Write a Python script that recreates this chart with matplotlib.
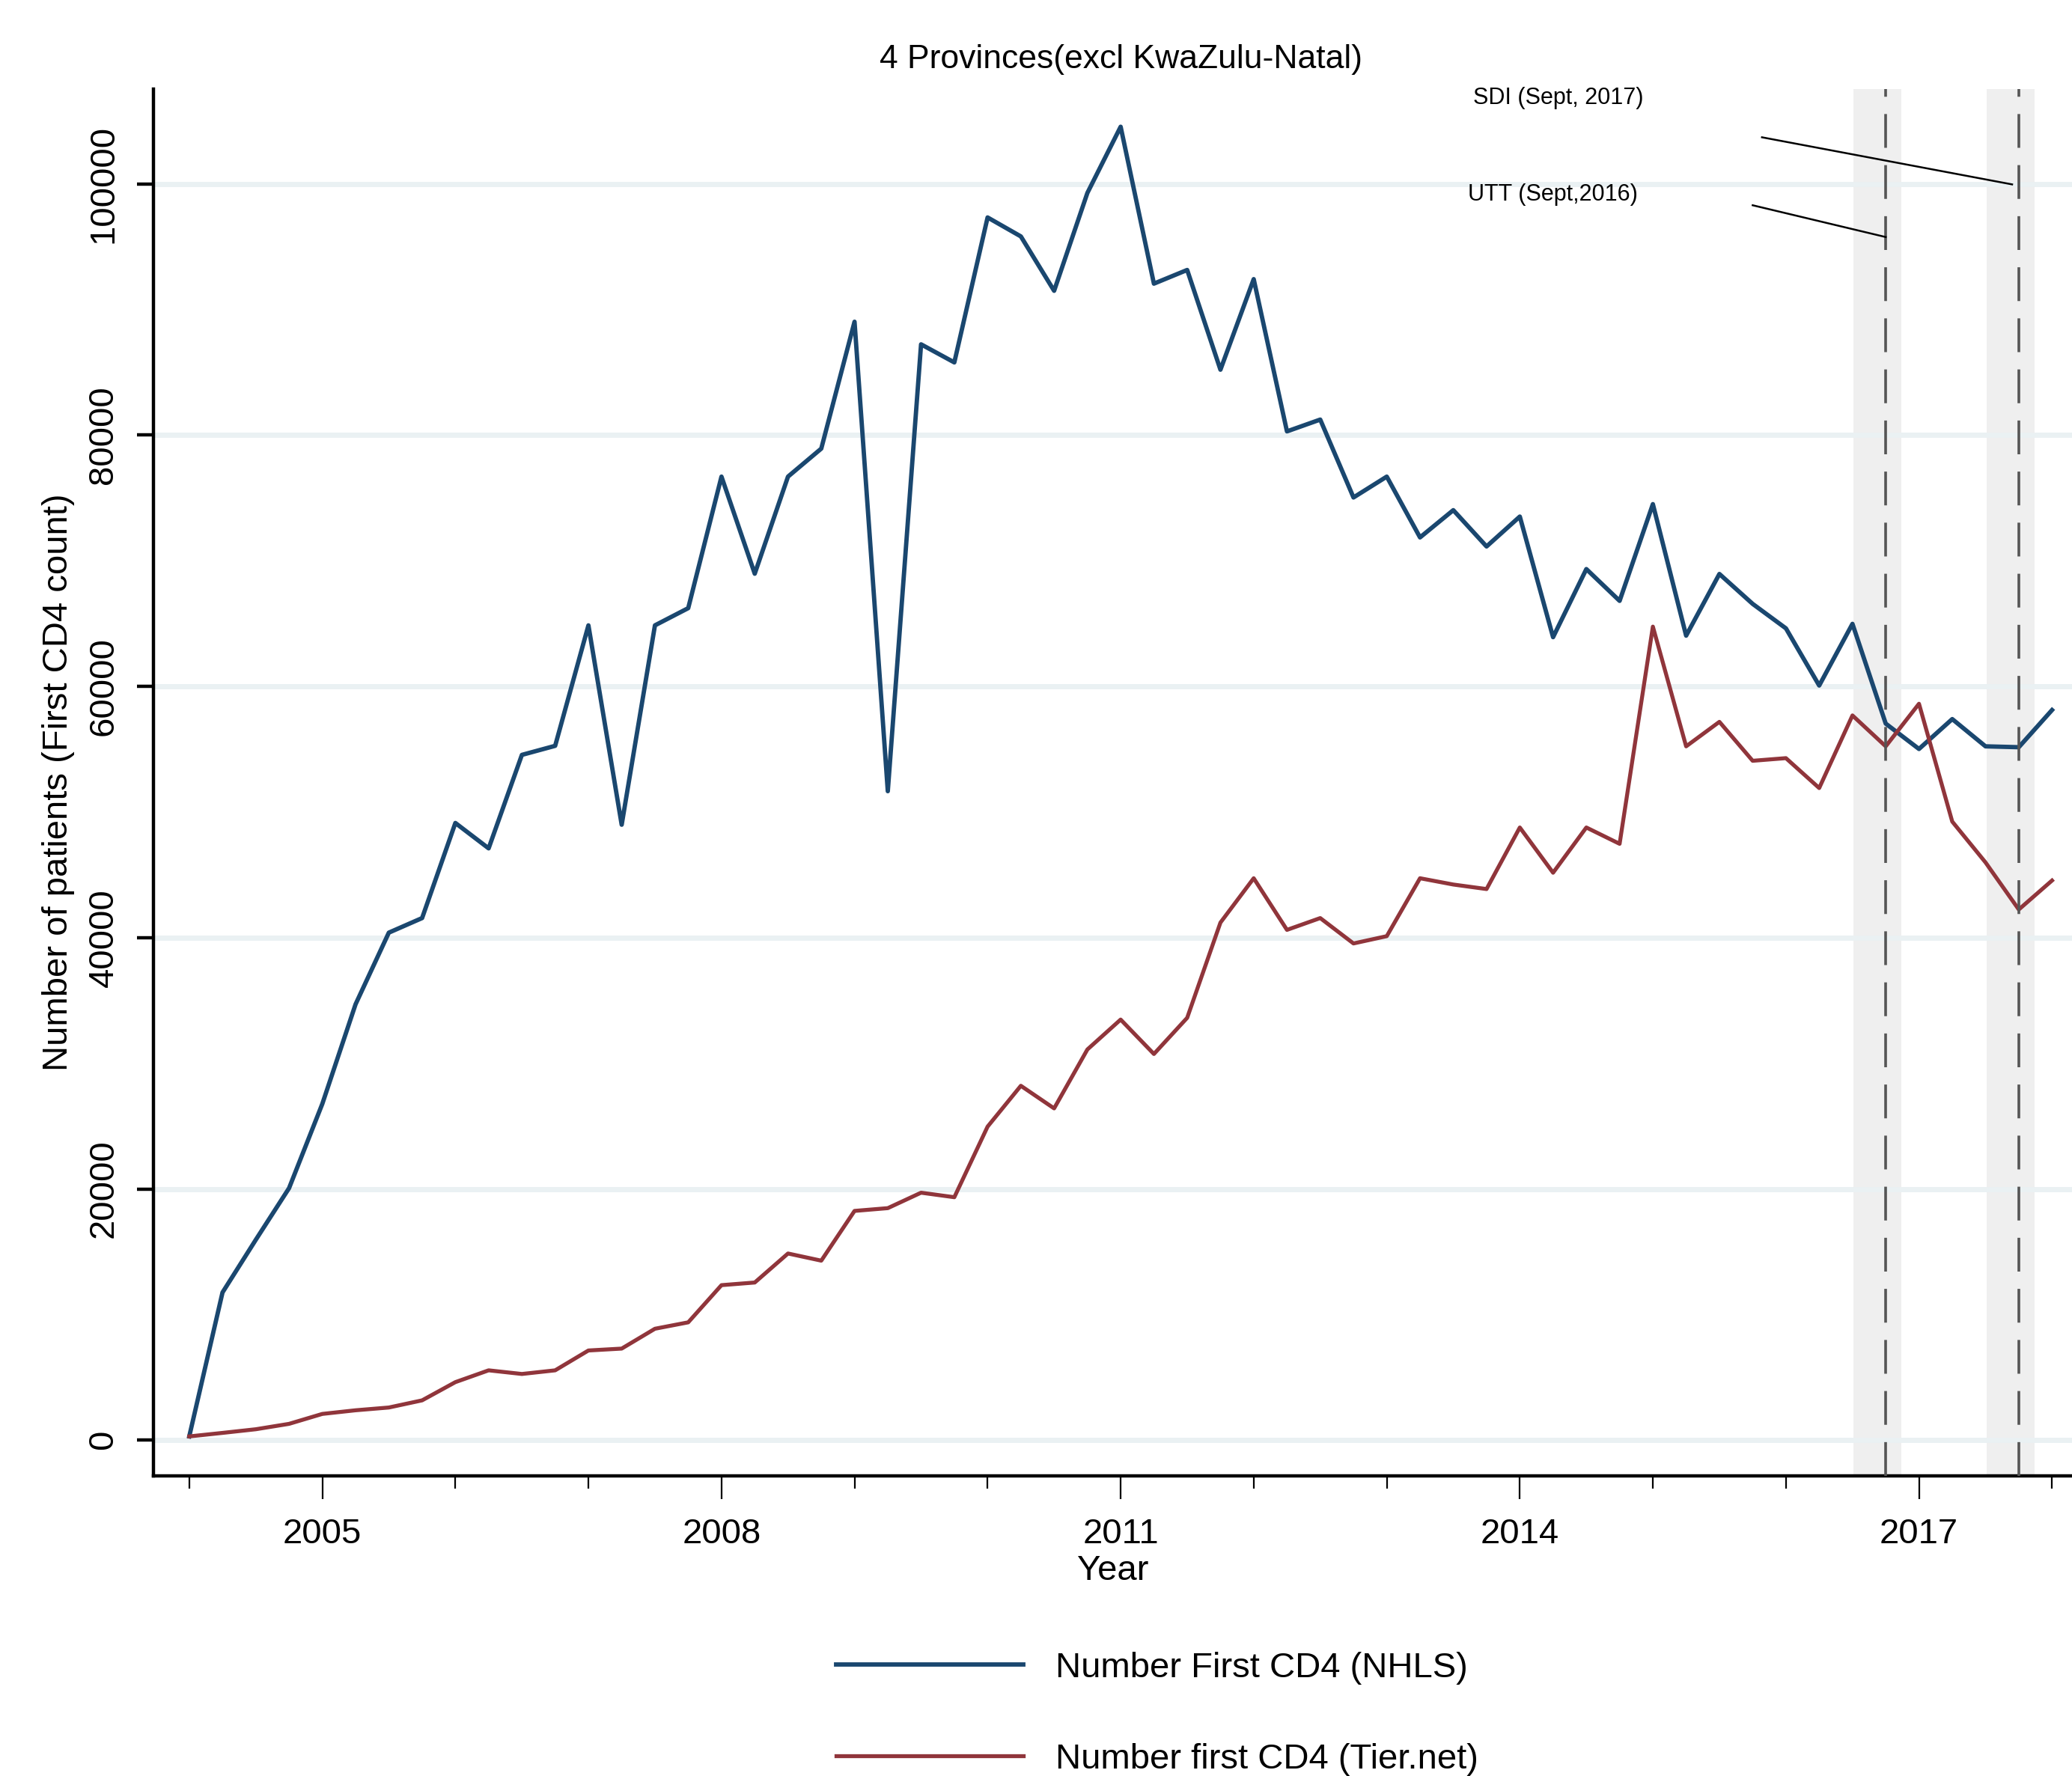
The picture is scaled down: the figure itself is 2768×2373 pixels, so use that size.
import numpy as np
import matplotlib
matplotlib.use("Agg")
import matplotlib.pyplot as plt

plt.rcParams['font.family'] = ['Liberation Sans Narrow', 'Liberation Sans', 'DejaVu Sans']

# quarterly time index, 2004 Q1 .. 2018 Q1
quarters = np.arange(2004, 2018.01, 0.25)

nhls = [300, 11760, 15950, 20060,
        26770, 34700, 40400, 41560,
        49130, 47110, 54550, 55270,
        64860, 48990, 64860, 66230,
        76700, 68970, 76700, 78930,
        89030, 51660, 87230, 85790,
        97330, 95820, 91490, 99280,
        104550, 92060, 93150, 85210,
        92420, 80300, 81240, 75040,
        76700, 71860, 74030, 71140,
        73520, 63920, 69340, 66810,
        74510, 64040, 68950, 66570,
        64620, 60070, 64980, 57040,
        55020, 57400, 55230, 55160,
        58120]

tiernet = [300, 580, 870, 1300,
           2090, 2380, 2600, 3170,
           4620, 5560, 5270, 5560,
           7140, 7290, 8870, 9380,
           12340, 12550, 14860, 14290,
           18250, 18470, 19700, 19340,
           24960, 28210, 26410, 31100,
           33480, 30740, 33620, 41200,
           44730, 40620, 41560, 39540,
           40120, 44730, 44230, 43870,
           48770, 45170, 48770, 47470,
           64760, 55230, 57180, 54080,
           54290, 51910, 57690, 55230,
           58620, 49240, 45990, 42240,
           44550]

labels = ["Number First CD4 (NHLS)", "Number first CD4 (Tier.net)"]
events = [2016.75, 2017.75]          # UTT, SDI
event_names = ["UTT (Sept,2016)", "SDI (Sept, 2017)"]
label_pos = [(2014.25, 99130), (2014.29, 106850)]
pointer_start = [(2015.75, 98300), (2015.82, 103710)]
pointer_end = [(2016.75, 95770), (2017.70, 99960)]

yticks = [0, 20000, 40000, 60000, 80000, 100000]
major_years = [2005, 2008, 2011, 2014, 2017]
minor_years = list(range(2004, 2019))

fig = plt.figure(figsize=(13.84, 11.865), dpi=200)
ax = fig.add_axes([0.074, 0.169, 0.926, 0.781])

for ev in events:
    ax.axvspan(ev - 0.24, ev + 0.117, color='#efefef', lw=0, zorder=0)

ax.plot(quarters, nhls, color='#1a476f', lw=2.1, label=labels[0], zorder=3)
ax.plot(quarters, tiernet, color='#90353b', lw=1.9, label=labels[1], zorder=3)

for ev in events:
    ax.axvline(ev, color='#555555', lw=1.3, dashes=(12.5, 6.4), zorder=4)

for name, pos, p0, p1 in zip(event_names, label_pos, pointer_start, pointer_end):
    ax.text(pos[0], pos[1], name, fontsize=11, ha='center', va='center')
    ax.plot([p0[0], p1[0]], [p0[1], p1[1]], color='black', lw=0.9, zorder=5)

ax.set_xlim(2003.73, 2018.15)
ax.set_ylim(-2840, 107570)

ax.set_yticks(yticks)
ax.set_yticklabels([str(v) for v in yticks], rotation=90, va='center', fontsize=17)
ax.yaxis.grid(True, color='#eaf1f3', lw=2.5)
ax.set_axisbelow(True)

ax.set_xticks(major_years)
ax.set_xticklabels([str(y) for y in major_years], fontsize=17)
ax.set_xticks(minor_years, minor=True)
ax.tick_params(axis='x', which='major', length=11, width=0.8, pad=9)
ax.tick_params(axis='x', which='minor', length=6, width=0.8)
ax.tick_params(axis='y', length=8, width=1.6, pad=8)

for side in ['top', 'right']:
    ax.spines[side].set_visible(False)
for side in ['left', 'bottom']:
    ax.spines[side].set_linewidth(1.6)

ax.set_xlabel("Year", fontsize=17, labelpad=2)
ax.set_ylabel("Number of patients (First CD4 count)", fontsize=17, labelpad=6)

fig.text(0.541, 0.9665, "4 Provinces(excl KwaZulu-Natal)", fontsize=16, ha='center', va='center')

fig.legend(loc='center left', bbox_to_anchor=(0.395, 0.035), frameon=False, fontsize=17,
           handlelength=5.3, handletextpad=0.9, labelspacing=1.65, borderpad=0)

fig.savefig("out.png", dpi=200)
